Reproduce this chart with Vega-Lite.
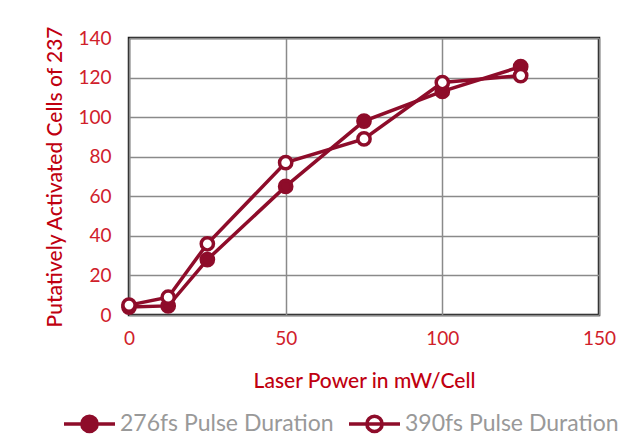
{
  "$schema": "https://vega.github.io/schema/vega-lite/v6.json",
  "autosize": {"type": "none"},
  "padding": {"left": 129, "top": 38, "right": 43, "bottom": 119},
  "width": 470,
  "height": 277,
  "background": "white",
  "config": {
    "font": "Lato",
    "view": {"stroke": "#1a1a1a", "strokeWidth": 2.5},
    "axis": {
      "gridColor": "#8a8a8a",
      "gridWidth": 1.5,
      "gridOpacity": 1,
      "domain": false,
      "ticks": false,
      "labelFlush": false,
      "labelColor": "#d0202a",
      "labelFontSize": 19,
      "labelFont": "Lato",
      "titleColor": "#c00010",
      "titleFontSize": 21,
      "titleFont": "Lato",
      "titleFontWeight": 500
    }
  },
  "data": {
    "values": [
      {"power": 0, "cells": 4, "series": "276fs Pulse Duration"},
      {"power": 12.5, "cells": 4.6, "series": "276fs Pulse Duration"},
      {"power": 25, "cells": 28, "series": "276fs Pulse Duration"},
      {"power": 50, "cells": 65, "series": "276fs Pulse Duration"},
      {"power": 75, "cells": 98, "series": "276fs Pulse Duration"},
      {"power": 100, "cells": 113, "series": "276fs Pulse Duration"},
      {"power": 125, "cells": 125.5, "series": "276fs Pulse Duration"},
      {"power": 0, "cells": 5, "series": "390fs Pulse Duration"},
      {"power": 12.5, "cells": 9, "series": "390fs Pulse Duration"},
      {"power": 25, "cells": 36, "series": "390fs Pulse Duration"},
      {"power": 50, "cells": 77, "series": "390fs Pulse Duration"},
      {"power": 75, "cells": 89, "series": "390fs Pulse Duration"},
      {"power": 100, "cells": 117.5, "series": "390fs Pulse Duration"},
      {"power": 125, "cells": 121, "series": "390fs Pulse Duration"}
    ]
  },
  "encoding": {
    "x": {
      "field": "power", "type": "quantitative",
      "scale": {"domain": [0, 150], "nice": false},
      "axis": {"values": [0, 50, 100, 150], "title": "Laser Power in mW/Cell", "labelPadding": 14, "titlePadding": 22}
    },
    "y": {
      "field": "cells", "type": "quantitative",
      "scale": {"domain": [0, 140], "nice": false},
      "axis": {"values": [0, 20, 40, 60, 80, 100, 120, 140], "title": "Putatively Activated Cells of 237", "labelPadding": 18, "titlePadding": 12}
    }
  },
  "layer": [
    {
      "mark": {"type": "line", "color": "#8e0c2a", "strokeWidth": 3.5},
      "encoding": {"detail": {"field": "series"}}
    },
    {
      "mark": {"type": "point", "shape": "circle", "filled": true, "stroke": "#8e0c2a", "strokeWidth": 3.5, "size": 150, "opacity": 1},
      "encoding": {
        "fill": {
          "field": "series", "type": "nominal",
          "scale": {"range": ["#8e0c2a", "#ffffff"]},
          "legend": {
            "title": null,
            "orient": "none",
            "legendX": -67,
            "legendY": 358,
            "direction": "horizontal",
            "symbolSize": 2601,
            "symbolStrokeColor": "#8e0c2a",
            "symbolStrokeWidth": 3.5,
            "symbolOpacity": 1,
            "labelFontSize": 23,
            "labelColor": "#999999",
            "labelFont": "Lato",
            "labelOffset": 3,
            "labelLimit": 400,
            "columnPadding": 8,
            "encode": {
              "symbols": {
                "update": {
                  "shape": {"value": "M-1,0H1M-0.3,0A0.3,0.3 0 1,0 0.3,0A0.3,0.3 0 1,0 -0.3,0Z"},
                  "size": {"value": 2601},
                  "stroke": {"value": "#8e0c2a"},
                  "strokeWidth": {"value": 3.5}
                }
              }
            }
          }
        }
      }
    }
  ]
}
